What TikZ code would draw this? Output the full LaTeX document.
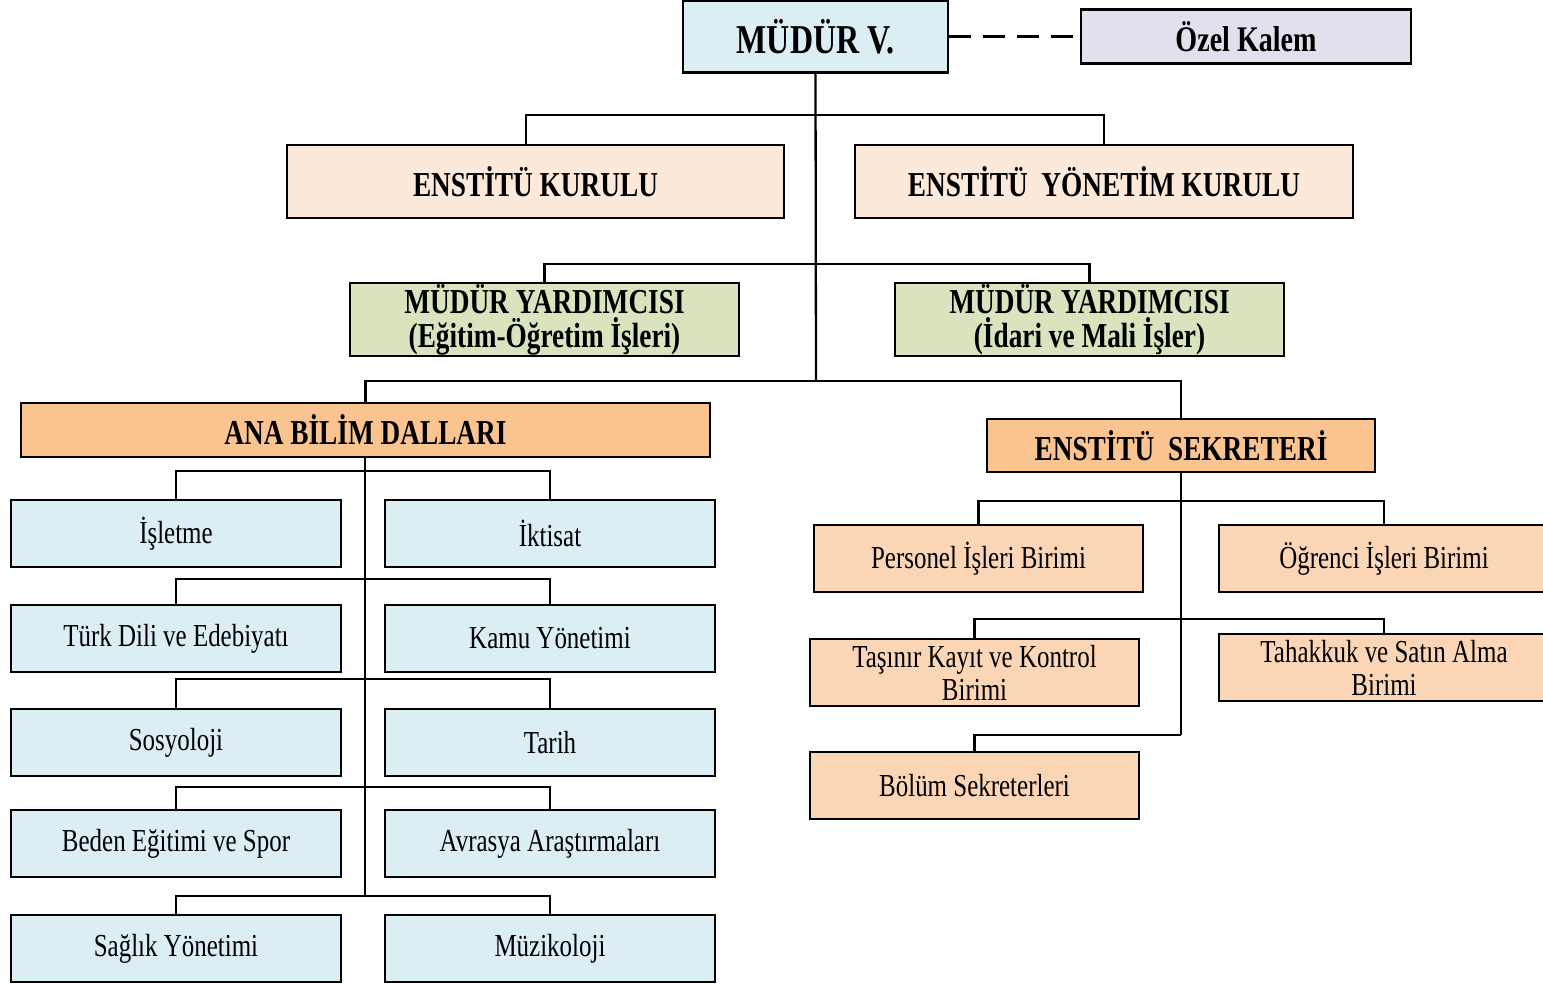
\documentclass[tikz,border=0pt]{standalone}
\usepackage{fontspec}
\setmainfont[FakeStretch=0.78]{Liberation Serif}
\begin{document}
\begin{tikzpicture}[x=0.5pt,y=-0.5pt,
  box/.style={draw=black, line width=1.25pt, inner sep=0pt, align=center, text=black},
  hdbox/.style={box, font=\fontsize{17.5}{17}\selectfont\bfseries},
  txbox/.style={box, font=\fontsize{16}{16.5}\selectfont},
  conn/.style={line width=1.15pt, draw=black},
]
\definecolor{cblue}{HTML}{DAEEF3}
\definecolor{clav}{HTML}{E4DFEC}
\definecolor{cpink}{HTML}{FDE9D9}
\definecolor{cgreen}{HTML}{D7E4BD}
\definecolor{corange}{HTML}{FAC491}
\definecolor{cpeach}{HTML}{FBD6B6}
\clip (0,0) rectangle (1543,985);
\fill[white] (0,0) rectangle (1543,985);

% top
\node[hdbox, fill=cblue, minimum width=132.5pt, minimum height=36pt, font=\fontsize{20.5}{20}\selectfont\bfseries] (mudur) at (815.5,36.5) {MÜDÜR V.};
\node[box, fill=clav, minimum width=165pt, minimum height=27pt, font=\fontsize{18}{18}\selectfont\bfseries] (ozel) at (1246,36.5) {Özel Kalem};
\draw[line width=1.25pt, dash pattern=on 11pt off 6pt] (mudur.east) -- (ozel.west);

\node[hdbox, fill=cpink, minimum width=248.5pt, minimum height=36.5pt] (ek) at (535.5,181.5) {ENSTİTÜ KURULU};
\node[hdbox, fill=cpink, minimum width=249pt, minimum height=36.5pt] (eyk) at (1104,181.5) {ENSTİTÜ\ \ YÖNETİM KURULU};

\node[hdbox, fill=cgreen, minimum width=194.5pt, minimum height=36.5pt] (my1) at (544.5,319.5) {MÜDÜR YARDIMCISI\\(Eğitim-Öğretim İşleri)};
\node[hdbox, fill=cgreen, minimum width=194.5pt, minimum height=36.5pt] (my2) at (1089.5,319.5) {MÜDÜR YARDIMCISI\\(İdari ve Mali İşler)};

\node[hdbox, fill=corange, minimum width=344.5pt, minimum height=27pt] (abd) at (365.5,430) {ANA BİLİM DALLARI};
\node[hdbox, fill=corange, minimum width=194pt, minimum height=26.5pt] (es) at (1181,445.5) {ENSTİTÜ\ \ SEKRETERİ};

% trunk and top buses
\coordinate (b1l) at (526,115);
\coordinate (b1) at (816,115);
\coordinate (b2) at (816,264);
\coordinate (b3) at (816,381);
\draw[conn] (mudur.south) -- (b3);
\draw[conn] (b1l |- ek.north) -- (b1l) -| (eyk.north);
\draw[conn] (my1.north) |- (b2) -| (my2.north);
\draw[conn] (abd.north) |- (b3) -| (es.north);

% left column
\node[txbox, fill=cblue, minimum width=165pt, minimum height=33.5pt] (l1) at (176,533.5) {İşletme};
\node[txbox, fill=cblue, minimum width=165pt, minimum height=33.5pt] (r1) at (550,533.5) {İktisat};
\node[txbox, fill=cblue, minimum width=165pt, minimum height=33.5pt] (l2) at (176,638.5) {Türk Dili ve Edebiyatı};
\node[txbox, fill=cblue, minimum width=165pt, minimum height=33.5pt] (r2) at (550,638.5) {Kamu Yönetimi};
\node[txbox, fill=cblue, minimum width=165pt, minimum height=33.5pt] (l3) at (176,742.5) {Sosyoloji};
\node[txbox, fill=cblue, minimum width=165pt, minimum height=33.5pt] (r3) at (550,742.5) {Tarih};
\node[txbox, fill=cblue, minimum width=165pt, minimum height=33.5pt] (l4) at (176,843.5) {Beden Eğitimi ve Spor};
\node[txbox, fill=cblue, minimum width=165pt, minimum height=33.5pt] (r4) at (550,843.5) {Avrasya Araştırmaları};
\node[txbox, fill=cblue, minimum width=165pt, minimum height=33.5pt] (l5) at (176,948.5) {Sağlık Yönetimi};
\node[txbox, fill=cblue, minimum width=165pt, minimum height=33.5pt] (r5) at (550,948.5) {Müzikoloji};

\coordinate (lb1) at (365,471);
\coordinate (lb2) at (365,579);
\coordinate (lb3) at (365,679);
\coordinate (lb4) at (365,787);
\coordinate (lb5) at (365,896);
\draw[conn] (abd.south -| lb5) -- (lb5);
\draw[conn] (l1.north) |- (lb1) -| (r1.north);
\draw[conn] (l2.north) |- (lb2) -| (r2.north);
\draw[conn] (l3.north) |- (lb3) -| (r3.north);
\draw[conn] (l4.north) |- (lb4) -| (r4.north);
\draw[conn] (l5.north) |- (lb5) -| (r5.north);

% right column
\node[txbox, fill=cpeach, minimum width=164.5pt, minimum height=33.5pt] (pers) at (978.5,558.5) {Personel İşleri Birimi};
\node[txbox, fill=cpeach, minimum width=165pt, minimum height=33.5pt] (ogr) at (1384,558.5) {Öğrenci İşleri Birimi};
\node[txbox, fill=cpeach, minimum width=164.5pt, minimum height=33.5pt] (tas) at (974.5,672.5) {Taşınır Kayıt ve Kontrol\\Birimi};
\node[txbox, fill=cpeach, minimum width=165pt, minimum height=33.5pt] (tah) at (1384,667.5) {Tahakkuk ve Satın Alma\\Birimi};
\node[txbox, fill=cpeach, minimum width=164.5pt, minimum height=33.5pt] (bol) at (974.5,785.5) {Bölüm Sekreterleri};

\coordinate (rb1) at (1181,501);
\coordinate (rb2) at (1181,619);
\coordinate (rb3) at (1181,735);
\draw[conn] (es.south) -- (rb3);
\draw[conn] (pers.north) |- (rb1) -| (ogr.north);
\draw[conn] (tas.north) |- (rb2) -| (tah.north);
\draw[conn] (bol.north) |- (rb3);
\end{tikzpicture}
\end{document}
